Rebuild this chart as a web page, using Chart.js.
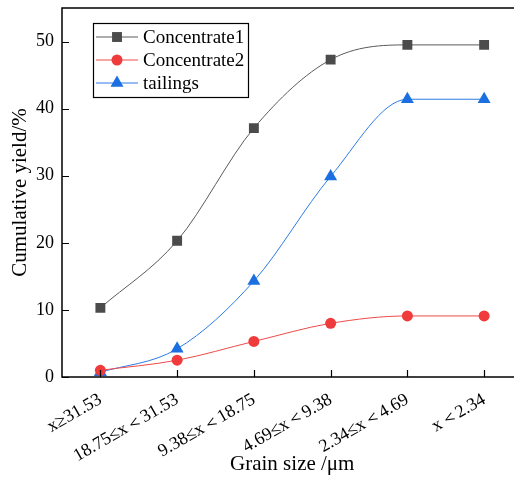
<!DOCTYPE html>
<html>
<head>
<meta charset="utf-8">
<script src="https://cdn.jsdelivr.net/npm/chart.js@4"></script>
<style>
  html, body { margin: 0; padding: 0; overflow: hidden; background: #fff; }
  #wrap { width: 530px; height: 479px; }
</style>
</head>
<body>
<div id="wrap"><canvas id="chart" width="530" height="479"></canvas></div>
<script>
"use strict";

const categories = ["x≥31.53", "18.75≤x＜31.53", "9.38≤x＜18.75", "4.69≤x＜9.38", "2.34≤x＜4.69", "x＜2.34"];
const concentrate1 = [10.3, 20.3, 37.1, 47.3, 49.5, 49.5];
const concentrate2 = [1.0, 2.5, 5.3, 8.0, 9.1, 9.1];
const tailings = [0.7, 4.2, 14.3, 29.9, 41.4, 41.4];
const yTicks = [0, 10, 20, 30, 40, 50];

const FONT = "'Liberation Serif', 'Times New Roman', serif";

const series = [
  { label: "Concentrate1", data: concentrate1, color: "#4b4b4b", line: "#5a5a5a", style: "rect", radius: 7 },
  { label: "Concentrate2", data: concentrate2, color: "#ef3b3b", line: "#ef4a4a", style: "circle", radius: 5.5 },
  { label: "tailings", data: tailings, color: "#1b6fe0", line: "#2b7be6", style: "triangle", radius: 7.5 },
];

// inward tick marks + frame
const frame = {
  id: "frame",
  afterDraw(chart) {
    const ctx = chart.ctx;
    const a = chart.chartArea;
    const x = chart.scales.x, y = chart.scales.y;
    ctx.save();
    ctx.strokeStyle = "#000";
    ctx.lineWidth = 1.5;
    ctx.strokeRect(a.left, a.top, a.right - a.left, a.bottom - a.top);
    ctx.lineWidth = 1.2;
    ctx.beginPath();
    yTicks.forEach(v => {
      const py = Math.round(y.getPixelForValue(v)) + 0.5;
      ctx.moveTo(a.left, py);
      ctx.lineTo(a.left + 7, py);
    });
    categories.forEach((c, i) => {
      const px = Math.round(x.getPixelForValue(i)) + 0.5;
      ctx.moveTo(px, a.bottom);
      ctx.lineTo(px, a.bottom - 7);
    });
    ctx.stroke();
    ctx.restore();
  }
};

const legendBox = {
  id: "legendBox",
  afterDraw(chart) {
    const ctx = chart.ctx;
    ctx.save();
    ctx.fillStyle = "#fff";
    ctx.fillRect(93, 23, 155, 74);
    ctx.strokeStyle = "#000";
    ctx.lineWidth = 1.2;
    ctx.strokeRect(93.5, 23.5, 155, 74);
    ctx.font = "19px " + FONT;
    ctx.textBaseline = "middle";
    series.forEach((s, i) => {
      const cy = 37 + i * 23;
      ctx.strokeStyle = s.line;
      ctx.lineWidth = 1;
      ctx.beginPath();
      ctx.moveTo(96, cy);
      ctx.lineTo(138, cy);
      ctx.stroke();
      ctx.fillStyle = s.color;
      Chart.helpers.drawPoint(ctx, { pointStyle: s.style, radius: s.radius, borderWidth: 0 }, 117, cy);
      ctx.fillStyle = "#000";
      ctx.fillText(s.label, 143, cy + 1);
    });
    ctx.restore();
  }
};

new Chart(document.getElementById("chart").getContext("2d"), {
  type: "line",
  data: {
    labels: categories,
    datasets: series.map(s => ({
      label: s.label,
      data: s.data,
      borderColor: s.line,
      borderWidth: 1,
      backgroundColor: s.color,
      pointBackgroundColor: s.color,
      pointBorderWidth: 0,
      pointStyle: s.style,
      pointRadius: s.radius,
      cubicInterpolationMode: "monotone",
      fill: false,
    })),
  },
  options: {
    responsive: false,
    animation: false,
    layout: { padding: { top: 8, right: 6, left: 0, bottom: 0 } },
    plugins: { legend: { display: false }, tooltip: { enabled: false } },
    scales: {
      x: {
        type: "category",
        offset: true,
        grid: { display: false, drawTicks: false },
        border: { display: false },
        ticks: {
          color: "#000",
          font: { family: FONT, size: 18 },
          minRotation: 30,
          maxRotation: 30,
          padding: 12,
          autoSkip: false,
        },
        title: {
          display: true,
          text: "Grain size /μm",
          color: "#000",
          font: { family: FONT, size: 21 },
          padding: { top: 0, bottom: 2 },
        },
        afterFit(scale) {
          scale.height = 102;
          scale.paddingLeft = 0;
          scale.paddingRight = 0;
        },
      },
      y: {
        min: 0,
        max: 55,
        grid: { display: false, drawTicks: false },
        border: { display: false },
        afterBuildTicks(scale) {
          scale.ticks = yTicks.map(v => ({ value: v }));
        },
        ticks: {
          color: "#000",
          font: { family: FONT, size: 18 },
          padding: 8,
        },
        title: {
          display: true,
          text: "Cumulative yield/%",
          color: "#000",
          font: { family: FONT, size: 21 },
          padding: { top: 8, bottom: 0 },
        },
        afterFit(scale) {
          scale.width = 62;
          scale.paddingTop = 0;
          scale.paddingBottom = 0;
        },
      },
    },
  },
  plugins: [frame, legendBox],
});
</script>
</body>
</html>
